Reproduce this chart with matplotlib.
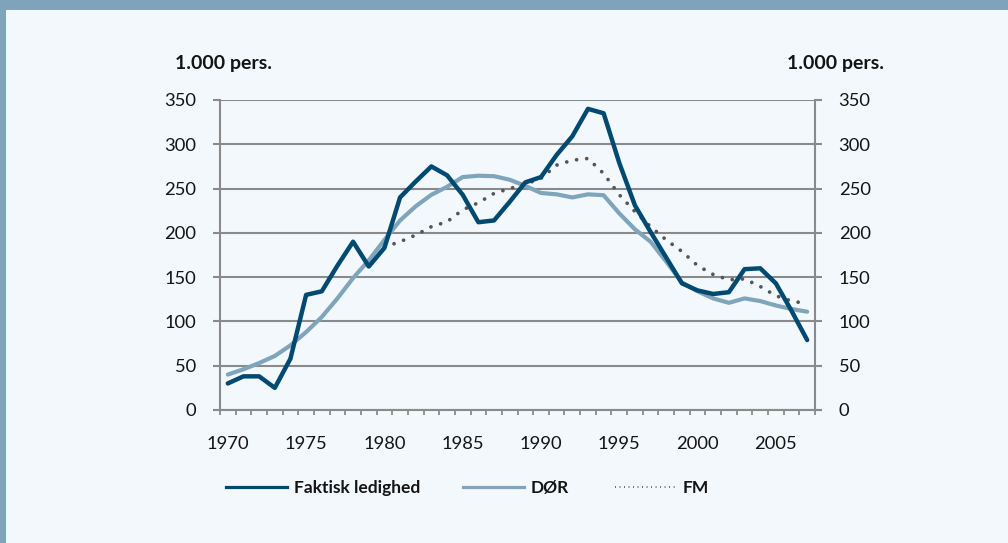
import matplotlib
matplotlib.use("Agg")
import matplotlib.pyplot as plt
from matplotlib.lines import Line2D
from matplotlib.patches import Rectangle

years = list(range(1970, 2008))
faktisk = [30, 38, 38, 25, 58, 130, 134, 163, 190, 162,
           183, 240, 258, 275, 265, 243, 212, 214, 235, 257,
           263, 288, 309, 340, 335, 279, 231, 201, 172, 143,
           135, 131, 133, 159, 160, 143, 112, 79]
dor = [40, 46, 53, 61, 73, 88, 105, 126, 149, 169,
       192, 214, 230, 243, 252, 263, 264.5, 264, 260, 253,
       245, 243.5, 240, 243.5, 242.5, 222, 204, 190, 167.5, 144,
       134, 126, 121, 126, 123, 118, 114, 111]
fm_years = list(range(1980, 2008))
fm = [184, 190, 197.5, 207, 212.5, 226, 234, 244.5, 250, 255,
      261.5, 276.5, 282, 284, 267, 243, 224, 207, 192, 179,
      163, 153, 147, 148, 139.5, 129, 123, 120]

x_labels = [1970, 1975, 1980, 1985, 1990, 1995, 2000, 2005]
y_ticks = [0, 50, 100, 150, 200, 250, 300, 350]
unit_label = "1.000 pers."
series_names = ["Faktisk ledighed", "DØR", "FM"]

DARK = "#004a72"
LIGHT = "#7fa5bc"
DOTS = "#555555"
GRID = "#8a8a8a"
BG = "#f3f8fc"
BAND = "#7fa3bb"
TXT = "#141414"

plt.rcParams["font.family"] = ["Lato", "DejaVu Sans"]

fig = plt.figure(figsize=(10.08, 5.43), dpi=100, facecolor=BG)
ax = fig.add_axes([220 / 1008, 1 - 410 / 543, (815 - 220) / 1008, (410 - 100) / 543])
ax.set_facecolor(BG)

# frame band / border
fig.patches.append(Rectangle((0, 1 - 10 / 543), 1, 10 / 543, transform=fig.transFigure,
                             facecolor=BAND, edgecolor="none", zorder=0))
fig.patches.append(Rectangle((0, 0), 6 / 1008, 1, transform=fig.transFigure,
                             facecolor=BAND, edgecolor="none", zorder=0))

ax.plot(years, dor, color=LIGHT, lw=3.0, solid_capstyle="round", solid_joinstyle="round", zorder=3)
ax.plot(fm_years, fm, color=DOTS, lw=2.7, linestyle=(0, (0.01, 2.7)), dash_capstyle="round", zorder=4)
ax.plot(years, faktisk, color=DARK, lw=3.2, solid_capstyle="round", solid_joinstyle="round", zorder=5)

ax.set_xlim(1969.5, 2007.5)
ax.set_ylim(0, 350)
ax.set_yticks(y_ticks)
ax.yaxis.grid(True, color=GRID, lw=1.5)
ax.set_axisbelow(True)

ax.set_xticks(x_labels)
ax.set_xticklabels([str(v) for v in x_labels])
ax.set_xticks([y - 0.5 for y in years] + [2007.5], minor=True)
ax.tick_params(axis="x", which="major", length=0, pad=19, labelsize=13.2, colors=TXT)
ax.tick_params(axis="x", which="minor", length=3.8, width=1.3, color=GRID, direction="out")
ax.tick_params(axis="y", which="major", length=5, width=1.5, color=GRID, pad=12,
               labelsize=13.2, labelcolor=TXT, right=True, labelright=True, direction="out")

for side in ["left", "right", "bottom"]:
    ax.spines[side].set_color(GRID)
    ax.spines[side].set_linewidth(1.5)
ax.spines["top"].set_visible(False)

fig.text(175 / 1008, 1 - 64 / 543, unit_label, fontsize=14, fontweight="bold",
         ha="left", va="center", color=TXT)
fig.text(884 / 1008, 1 - 63 / 543, unit_label, fontsize=14, fontweight="bold",
         ha="right", va="center", color=TXT)

handles = [Line2D([], [], color=DARK, lw=2.3),
           Line2D([], [], color=LIGHT, lw=2.3),
           Line2D([], [], color=DOTS, lw=1.3, linestyle=(0, (0.5, 2.0)))]
starts = [226, 463, 615]
for h, name, x0 in zip(handles, series_names, starts):
    lg = fig.legend([h], [name], loc="center left", bbox_to_anchor=(x0 / 1008, 1 - 488 / 543),
                    frameon=False, borderpad=0, borderaxespad=0, handlelength=3.5,
                    handletextpad=0.4,
                    prop={"family": ["Lato", "DejaVu Sans"], "weight": "bold", "size": 12.5})
    for t in lg.get_texts():
        t.set_color(TXT)

fig.savefig("out.png", dpi=100, facecolor=BG)
